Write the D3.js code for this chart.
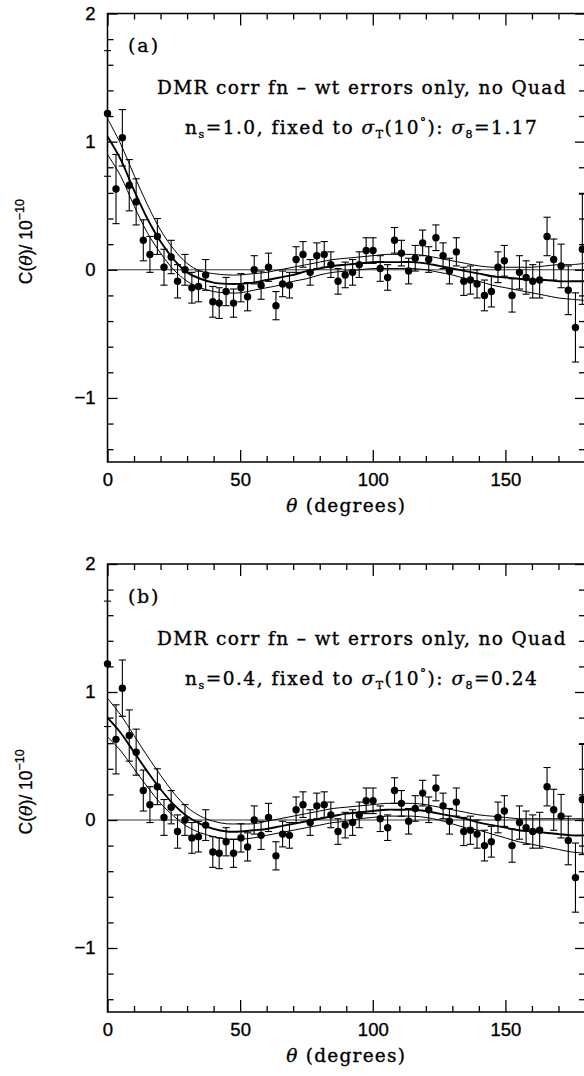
<!DOCTYPE html>
<html><head><meta charset="utf-8">
<script src="https://cdn.jsdelivr.net/npm/d3@7"></script>
<style>body{margin:0;background:#fff} svg{display:block}</style>
</head><body><svg id="c" width="584" height="1076"></svg>
<script>
// ---- data: DMR correlation function (same in both panels) ----
const theta = [0,3.2,5.6,8.2,10.8,13.5,16.0,18.8,21.3,24.0,26.4,29.2,31.8,34.3,37.0,39.7,42.1,44.7,47.5,50.3,52.8,55.3,57.9,60.7,63.5,66.0,68.6,71.1,73.7,76.4,78.9,81.7,84.2,86.9,89.6,92.4,94.9,97.5,100.1,102.8,105.6,108.2,110.8,113.5,116.0,118.8,121.1,123.8,126.5,128.9,131.5,134.3,136.8,139.3,142.1,144.7,147.2,149.6,152.5,155.3,157.8,160.3,162.9,165.7,168.2,171.0,173.7,176.4,179.0];
const corr = [1.22,0.63,1.03,0.66,0.53,0.23,0.12,0.26,0.02,0.10,-0.09,0.00,-0.14,-0.13,-0.04,-0.25,-0.26,-0.17,-0.26,-0.14,-0.21,0.00,-0.12,0.02,-0.28,-0.11,-0.12,0.08,0.12,-0.02,0.11,0.12,0.04,-0.09,-0.04,-0.02,0.04,0.15,0.15,0.01,-0.06,0.23,0.13,-0.01,0.09,0.21,0.08,0.25,0.11,-0.01,0.14,-0.09,-0.08,-0.11,-0.20,-0.17,0.02,0.07,-0.20,-0.02,-0.06,-0.09,-0.08,0.26,0.08,0.03,-0.16,-0.45,0.16];
const corrErr = [0.49,0.27,0.22,0.20,0.18,0.16,0.14,0.14,0.14,0.13,0.13,0.12,0.12,0.12,0.12,0.12,0.12,0.11,0.11,0.11,0.11,0.11,0.11,0.11,0.11,0.10,0.10,0.10,0.10,0.10,0.10,0.10,0.10,0.10,0.10,0.10,0.10,0.10,0.10,0.10,0.10,0.10,0.10,0.10,0.10,0.10,0.10,0.10,0.10,0.10,0.11,0.11,0.11,0.11,0.12,0.12,0.12,0.12,0.13,0.13,0.13,0.13,0.14,0.15,0.16,0.17,0.19,0.27,0.43];

// ---- model curves ----
const curveTheta = [0,5,10,15,20,25,30,35,40,45,50,55,60,65,70,75,80,85,90,95,100,105,110,115,120,125,130,135,140,145,150,155,160,165,170,175,180];
const aUpper = [1.18,0.98,0.74,0.51,0.31,0.16,0.05,-0.01,-0.03,-0.04,-0.04,-0.03,-0.02,0.00,0.02,0.04,0.06,0.08,0.09,0.10,0.11,0.12,0.12,0.12,0.11,0.09,0.07,0.05,0.03,0.02,0.02,0.02,0.02,0.03,0.04,0.04,0.05];
const aMid   = [1.04,0.86,0.62,0.40,0.22,0.08,-0.02,-0.07,-0.10,-0.11,-0.11,-0.10,-0.08,-0.06,-0.04,-0.01,0.01,0.03,0.04,0.05,0.06,0.06,0.06,0.06,0.05,0.03,0.01,-0.01,-0.03,-0.05,-0.06,-0.07,-0.08,-0.08,-0.09,-0.09,-0.09];
const aLower = [0.90,0.73,0.50,0.29,0.13,0.00,-0.09,-0.14,-0.17,-0.18,-0.18,-0.16,-0.14,-0.12,-0.09,-0.07,-0.04,-0.02,-0.01,0.00,0.01,0.01,0.01,0.01,0.00,-0.02,-0.04,-0.07,-0.09,-0.12,-0.14,-0.16,-0.18,-0.20,-0.22,-0.23,-0.24];
const bUpper = [0.95,0.82,0.66,0.50,0.35,0.21,0.10,0.03,-0.01,-0.03,-0.03,-0.03,-0.01,0.01,0.03,0.05,0.07,0.09,0.10,0.11,0.12,0.13,0.13,0.13,0.12,0.10,0.08,0.06,0.04,0.03,0.02,0.01,0.01,0.01,0.01,0.01,0.01];
const bMid   = [0.80,0.68,0.53,0.38,0.24,0.12,0.03,-0.03,-0.07,-0.09,-0.09,-0.08,-0.07,-0.05,-0.03,-0.01,0.01,0.03,0.05,0.06,0.07,0.08,0.08,0.08,0.07,0.05,0.03,0.01,-0.02,-0.04,-0.06,-0.08,-0.09,-0.10,-0.11,-0.12,-0.12];
const bLower = [0.65,0.54,0.40,0.26,0.13,0.03,-0.05,-0.10,-0.13,-0.15,-0.15,-0.14,-0.12,-0.10,-0.08,-0.06,-0.04,-0.02,-0.01,0.01,0.02,0.03,0.03,0.03,0.02,0.00,-0.03,-0.06,-0.08,-0.11,-0.14,-0.17,-0.19,-0.21,-0.23,-0.25,-0.26];

// ---- ticks / labels ----
const xMajor = [0,50,100,150];
const xMinor = [10,20,30,40,60,70,80,90,110,120,130,140,160,170,180];
const yMajor = [-1,0,1,2];
const yMinor = [-1.4,-1.2,-0.8,-0.6,-0.4,-0.2,0.2,0.4,0.6,0.8,1.2,1.4,1.6,1.8];
const panelTags = ["(a)","(b)"];
const nsValues = ["1.0","0.4"];
const sigma8Values = ["1.17","0.24"];

const svg = d3.select('#c');
svg.append('rect').attr('width',584).attr('height',1076).attr('fill','#fff');

const SERIF = "'DejaVu Serif', serif";
const SANS = "'Liberation Sans', Arial, sans-serif";

function fit(t, w){
  const n = t.text().length;
  const bw = t.node().getComputedTextLength();
  t.attr('letter-spacing', ((w - bw) / n).toFixed(3));
}
function heavy(t, sw){ return t.attr('stroke','#000').attr('stroke-width',sw).attr('fill','#000'); }

function panel(i, top, bottom, upper, mid, lower){
  const off = top - 13.5;
  const x = d3.scaleLinear().domain([0,180]).range([107.5,585]);
  const y = d3.scaleLinear().domain([-1.5,2]).range([bottom, top]);
  const g = svg.append('g');

  // zero line
  g.append('line').attr('x1',x(0)).attr('x2',x(180)).attr('y1',y(0)).attr('y2',y(0))
    .attr('stroke','#000').attr('stroke-width',0.8);

  // axes with inward ticks
  const mk = (ax, tr) => {
    const a = g.append('g').attr('transform',tr).call(ax);
    a.select('.domain').remove();
    a.selectAll('line').attr('stroke','#000').attr('stroke-width',1.3);
    heavy(a.selectAll('text').attr('font-family',SANS).attr('font-size',18.5), 0.35);
    return a;
  };
  mk(d3.axisBottom(x).tickValues(xMajor).tickSize(-12).tickPadding(11).tickFormat(d3.format('d')), `translate(0,${bottom})`);
  mk(d3.axisBottom(x).tickValues(xMinor).tickSize(-6).tickFormat(''), `translate(0,${bottom})`);
  mk(d3.axisTop(x).tickValues(xMajor).tickSize(-12).tickFormat(''), `translate(0,${top})`);
  mk(d3.axisTop(x).tickValues(xMinor).tickSize(-6).tickFormat(''), `translate(0,${top})`);
  mk(d3.axisLeft(y).tickValues(yMajor).tickSize(-10).tickPadding(12).tickFormat(d3.format('d')), `translate(${x(0)},0)`);
  mk(d3.axisLeft(y).tickValues(yMinor).tickSize(-6).tickFormat(''), `translate(${x(0)},0)`);
  mk(d3.axisRight(y).tickValues(yMajor).tickSize(-10).tickFormat(''), `translate(${x(180)},0)`);
  mk(d3.axisRight(y).tickValues(yMinor).tickSize(-6).tickFormat(''), `translate(${x(180)},0)`);

  // frame
  g.append('path').attr('d',`M${x(180)},${top}H${x(0)}V${bottom}H${x(180)}`)
    .attr('fill','none').attr('stroke','#000').attr('stroke-width',1.5);

  // model curves
  const line = d3.line().x((d,k)=>x(curveTheta[k])).y(d=>y(d)).curve(d3.curveCatmullRom);
  g.append('path').attr('d',line(upper)).attr('fill','none').attr('stroke','#000').attr('stroke-width',1);
  g.append('path').attr('d',line(lower)).attr('fill','none').attr('stroke','#000').attr('stroke-width',1);
  g.append('path').attr('d',line(mid)).attr('fill','none').attr('stroke','#000').attr('stroke-width',1.9);

  // data points with error bars
  const pts = g.append('g');
  theta.forEach((t,k)=>{
    const cx = x(t), y1 = y(corr[k]+corrErr[k]), y2 = y(corr[k]-corrErr[k]);
    pts.append('line').attr('x1',cx).attr('x2',cx).attr('y1',y1).attr('y2',y2).attr('stroke','#000').attr('stroke-width',1.1);
    pts.append('line').attr('x1',cx-3.6).attr('x2',cx+3.6).attr('y1',y1).attr('y2',y1).attr('stroke','#000').attr('stroke-width',1.1);
    pts.append('line').attr('x1',cx-3.6).attr('x2',cx+3.6).attr('y1',y2).attr('y2',y2).attr('stroke','#000').attr('stroke-width',1.1);
    pts.append('circle').attr('cx',cx).attr('cy',y(corr[k])).attr('r',3.7).attr('fill','#000');
  });

  // panel annotations
  const tag = heavy(g.append('text').attr('x',128).attr('y',52+off).attr('font-family',SERIF).attr('font-size',19).text(panelTags[i]), 0.3);
  fit(tag, 32);
  const l1 = heavy(g.append('text').attr('x',157).attr('y',94+off).attr('font-family',SERIF).attr('font-size',18.5)
    .text('DMR corr fn \u2013 wt errors only, no Quad'), 0.35);
  fit(l1, 410);
  const l2 = heavy(g.append('text').attr('x',185).attr('y',134+off).attr('font-family',SERIF).attr('font-size',18.5), 0.35);
  l2.append('tspan').text('n');
  l2.append('tspan').attr('font-size',11).attr('dy',4).text('s');
  l2.append('tspan').attr('dy',-4).text('=' + nsValues[i] + ', fixed to ');
  l2.append('tspan').attr('font-style','italic').text('\u03c3');
  l2.append('tspan').attr('font-size',11).attr('dy',4).text('T');
  l2.append('tspan').attr('dy',-4).text('(10');
  l2.append('tspan').attr('font-size',12).attr('dy',-7).text('\u00b0');
  l2.append('tspan').attr('dy',7).text('): ');
  l2.append('tspan').attr('font-style','italic').text('\u03c3');
  l2.append('tspan').attr('font-size',11).attr('dy',4).text('8');
  l2.append('tspan').attr('dy',-4).text('=' + sigma8Values[i]);
  fit(l2, 353);

  // axis titles
  const xt = heavy(g.append('text').attr('x',x(90)).attr('y',bottom+50).attr('text-anchor','middle')
    .attr('font-family',SERIF).attr('font-size',18.5), 0.35);
  xt.append('tspan').attr('font-style','italic').text('\u03b8');
  xt.append('tspan').text(' (degrees)');
  fit(xt, 120);

  const yt = heavy(g.append('text').attr('transform',`translate(32,${y(0.22)}) rotate(-90)`).attr('text-anchor','middle')
    .attr('font-family',SANS).attr('font-size',17.5), 0.3);
  yt.append('tspan').text('C(');
  yt.append('tspan').attr('font-style','italic').attr('font-family',SERIF).text('\u03b8');
  yt.append('tspan').text(')/ 10');
  yt.append('tspan').attr('font-size',12.5).attr('dy',-8).text('\u221210');
}

panel(0, 13.5, 462, aUpper, aMid, aLower);
panel(1, 564, 1012, bUpper, bMid, bLower);
</script>
</body></html>
